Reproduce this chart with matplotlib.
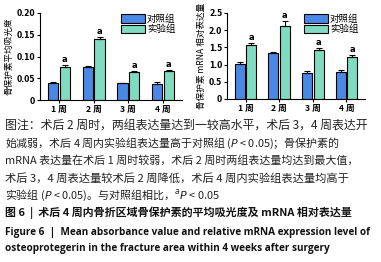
import matplotlib
matplotlib.use("Agg")
import matplotlib.pyplot as plt
import numpy as np

plt.rcParams['font.family'] = ['Noto Sans CJK SC', 'DejaVu Sans']
plt.rcParams['mathtext.fontset'] = 'dejavusans'

weeks = ['1 周', '2 周', '3 周', '4 周']
series = ['对照组', '实验组']
abs_ctrl = [0.040, 0.077, 0.038, 0.037]
abs_ctrl_err = [0.002, 0.002, 0.001, 0.004]
abs_exp = [0.077, 0.140, 0.065, 0.067]
abs_exp_err = [0.003, 0.005, 0.002, 0.002]
mrna_ctrl = [1.02, 1.33, 0.75, 0.78]
mrna_ctrl_err = [0.07, 0.04, 0.07, 0.06]
mrna_exp = [1.57, 2.12, 1.41, 1.22]
mrna_exp_err = [0.05, 0.14, 0.06, 0.05]

c_blue = '#4a88e6'
c_green = '#7fdcc0'

W, H = 381, 262
fig = plt.figure(figsize=(W/100, H/100), dpi=100)

def panel(rect, ctrl, ce, exp, ee, ylim, yticks, yticklabels, ylabel, star_off):
    ax = fig.add_axes(rect)
    x = np.arange(len(weeks))
    w = 0.3
    ax.bar(x - w/2 - 0.02, ctrl, w, yerr=[np.zeros(len(ce)), ce], color=c_blue,
           edgecolor='black', linewidth=0.8, capsize=2,
           error_kw=dict(elinewidth=0.8, capthick=0.8), label=series[0])
    ax.bar(x + w/2 + 0.02, exp, w, yerr=[np.zeros(len(ee)), ee], color=c_green,
           edgecolor='black', linewidth=0.8, capsize=2,
           error_kw=dict(elinewidth=0.8, capthick=0.8), label=series[1])
    for xi, v, e in zip(x, exp, ee):
        ax.text(xi + w/2 + 0.02, v + e + star_off, 'a', ha='center', va='bottom',
                fontsize=6, fontweight='bold', family='DejaVu Sans')
    ax.set_xlim(-0.55, len(weeks) - 0.45)
    ax.set_ylim(*ylim)
    ax.set_yticks(yticks)
    ax.set_yticklabels(yticklabels, fontsize=5.5, fontweight='bold', family='DejaVu Sans')
    ax.set_xticks(x)
    ax.set_xticklabels(weeks, fontsize=6.2, fontweight='bold')
    ax.tick_params(axis='both', length=2, width=0.8, pad=1.5)
    for s in ['top', 'right']:
        ax.spines[s].set_visible(False)
    for s in ['left', 'bottom']:
        ax.spines[s].set_linewidth(0.8)
    ax.set_ylabel(ylabel, fontsize=6.2, labelpad=2)
    ax.legend(loc='upper right', bbox_to_anchor=(1.0, 1.06), frameon=False,
              fontsize=6.8, handlelength=2.6, handleheight=1.0, handletextpad=0.15,
              labelspacing=0.1, borderpad=0.2)
    return ax

panel([40/W, 1 - 100/H, 142/W, 87/H], abs_ctrl, abs_ctrl_err, abs_exp, abs_exp_err,
      (0, 0.20), [0, 0.05, 0.10, 0.15, 0.20], ['0', '0.05', '0.10', '0.15', '0.20'],
      '骨保护素平均吸光度', 0.002)
panel([227/W, 1 - 99/H, 138/W, 86/H], mrna_ctrl, mrna_ctrl_err, mrna_exp, mrna_exp_err,
      (0, 2.5), [0, 0.5, 1.0, 1.5, 2.0, 2.5], ['0', '0.5', '1.0', '1.5', '2.0', '2.5'],
      '骨保护素 mRNA 相对表达量', 0.03)

lines = [
    (125, '图注：术后 2 周时，两组表达量达到一较高水平，术后 3，4 周表达开', 8.6),
    (143, '始减弱，术后 4 周内实验组表达量高于对照组 ($P$ < 0.05)；骨保护素的', 7.9),
    (160, 'mRNA 表达量在术后 1 周时较弱，术后 2 周时两组表达量均达到最大值，', 7.9),
    (178, '术后 3，4 周表达量较术后 2 周降低，术后 4 周内实验组表达量均高于', 8.1),
    (195, '实验组 ($P$ < 0.05)。与对照组相比，$^{a}P$ < 0.05', 7.9),
]
for y, t, fs in lines:
    fig.text(5/W, 1 - y/H, t, fontsize=fs, va='center', ha='left', color='#222222')

fig.text(5/W, 1 - 213/H, '图 6  |  术后 4 周内骨折区域骨保护素的平均吸光度及 mRNA 相对表达量',
         fontsize=7.9, va='center', ha='left', color='#111111', fontweight='bold')
fig.text(5/W, 1 - 232/H, 'Figure 6  |  Mean absorbance value and relative mRNA expression level of',
         fontsize=7.2, va='center', ha='left', color='#111111', fontweight='bold',
         family=['Open Sans', 'DejaVu Sans'])
fig.text(5/W, 1 - 249/H, 'osteoprotegerin in the fracture area within 4 weeks after surgery',
         fontsize=7.2, va='center', ha='left', color='#111111', fontweight='bold',
         family=['Open Sans', 'DejaVu Sans'])

fig.savefig('out.png', dpi=100)
